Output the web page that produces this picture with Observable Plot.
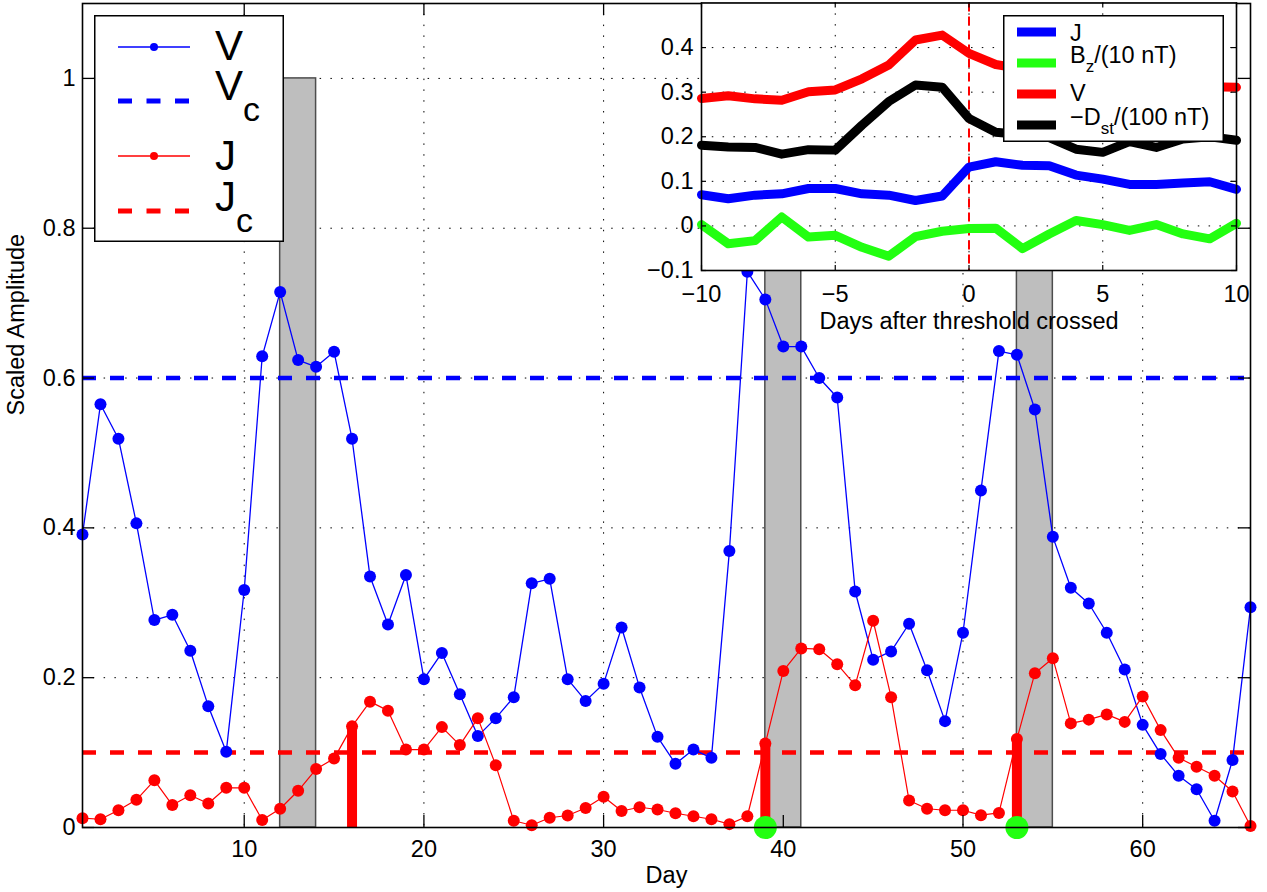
<!DOCTYPE html>
<html><head><meta charset="utf-8">
<script src="https://cdn.jsdelivr.net/npm/d3@7"></script>
<script src="https://cdn.jsdelivr.net/npm/@observablehq/plot@0.6"></script>
<style>
body{margin:0;background:#fff;}
#wrap{position:relative;width:1267px;height:892px;overflow:hidden;font-family:"Liberation Sans",Arial,sans-serif;}
#wrap > div, #wrap > svg{position:absolute;}
</style></head><body>
<div id="wrap"><div id="main" style="left:0;top:0;width:1267px"></div><div id="inset" style="left:620px;top:0;width:640px"></div></div>
<script>
// ---------- main chart data ----------
const days = [1,2,3,4,5,6,7,8,9,10,11,12,13,14,15,16,17,18,19,20,21,22,23,24,25,26,27,28,29,30,31,32,33,34,35,36,37,38,39,40,41,42,43,44,45,46,47,48,49,50,51,52,53,54,55,56,57,58,59,60,61,62,63,64,65,66];
const V = [0.391,0.565,0.519,0.406,0.277,0.284,0.236,0.162,0.101,0.317,0.629,0.715,0.624,0.615,0.635,0.519,0.335,0.271,0.337,0.198,0.233,0.178,0.122,0.146,0.174,0.326,0.332,0.198,0.169,0.192,0.267,0.187,0.121,0.085,0.104,0.093,0.369,0.742,0.705,0.642,0.642,0.600,0.574,0.315,0.224,0.235,0.272,0.210,0.142,0.260,0.450,0.636,0.631,0.558,0.388,0.320,0.299,0.260,0.211,0.137,0.098,0.069,0.051,0.009,0.090,0.294];
const J = [0.0125,0.011,0.023,0.037,0.063,0.030,0.043,0.032,0.053,0.053,0.010,0.025,0.049,0.078,0.092,0.135,0.168,0.156,0.104,0.104,0.134,0.110,0.146,0.083,0.009,0.003,0.013,0.016,0.026,0.041,0.022,0.027,0.024,0.019,0.015,0.011,0.0045,0.015,0.112,0.209,0.239,0.238,0.218,0.190,0.276,0.174,0.036,0.025,0.023,0.023,0.0165,0.0195,0.118,0.206,0.226,0.139,0.144,0.151,0.141,0.175,0.130,0.093,0.081,0.069,0.048,0.002];
const Vc = 0.6;
const Jc = 0.1;
const eventStart = [12,39,53];
const eventEnd = [14,41,55];
const eventTop = [1,1,1];
const crossDays = [16,39,53];
const stormDays = [39,53];
const mainXTicks = [10,20,30,40,50,60];
const mainYTicks = [0,0.2,0.4,0.6,0.8,1];

// ---------- inset (superposed epoch) data ----------
const lagDays = [-10,-9,-8,-7,-6,-5,-4,-3,-2,-1,0,1,2,3,4,5,6,7,8,9,10];
const epochJ   = [0.070,0.061,0.069,0.072,0.084,0.084,0.072,0.069,0.057,0.067,0.132,0.144,0.136,0.135,0.114,0.105,0.093,0.093,0.096,0.099,0.082];
const epochBz  = [0.003,-0.040,-0.033,0.020,-0.025,-0.021,-0.048,-0.068,-0.024,-0.012,-0.006,-0.005,-0.051,-0.018,0.012,0.003,-0.010,0.003,-0.018,-0.029,0.006];
const epochV   = [0.286,0.292,0.285,0.282,0.301,0.305,0.330,0.361,0.417,0.428,0.387,0.362,0.352,0.342,0.335,0.330,0.325,0.320,0.318,0.312,0.311];
const epochDst = [0.181,0.177,0.176,0.161,0.171,0.170,0.226,0.279,0.316,0.311,0.241,0.210,0.205,0.198,0.172,0.165,0.189,0.176,0.195,0.200,0.192];
const crossLag = 0;
const insetXTicks = [-10,-5,0,5,10];
const insetYTicks = [-0.1,0,0.1,0.2,0.3,0.4];

const FONT = "Liberation Sans, Arial, Helvetica, sans-serif";
const FS = 23.5;
const gridDash = "1.5,9.3";
const fmt = d => d < 0 ? "\u2212" + String(-d) : String(d);
const BLUE = "#0000ff", RED = "#ff0000", GREEN = "#22ff11";

// ---------- main plot ----------
const W = 1267, H = 892, mL = 82, mR = 17, mT = 3, mB = 65;
const pw = W - mL - mR, ph = H - mT - mB;
const series = days.map((d, i) => ({day: d, V: V[i], J: J[i]}));
const events = eventStart.map((s, i) => ({x1: s, x2: eventEnd[i], y1: 0, y2: eventTop[i]}));
const stems = crossDays.map(d => ({day: d, y1: 0, J: J[days.indexOf(d)]}));
const storms = stormDays.map(d => ({day: d, y: 0}));
const gridOpts = {stroke: "#000", strokeOpacity: 1, strokeWidth: 1, strokeDasharray: gridDash};
const tickOpts = {stroke: "#000", strokeWidth: 1.3};

const mainPlot = Plot.plot({
  width: W, height: H,
  marginLeft: mL, marginRight: mR, marginTop: mT, marginBottom: mB,
  style: {fontFamily: FONT, fontSize: FS + "px", background: "transparent", color: "#000", overflow: "visible", maxWidth: "none"},
  x: {domain: [1, 66]},
  y: {domain: [0, 1.1]},
  marks: [
    Plot.gridX(mainXTicks, gridOpts),
    Plot.gridY(mainYTicks.filter(d => d > 0), gridOpts),
    Plot.rect(events, {x1: "x1", x2: "x2", y1: "y1", y2: "y2", fill: "#bebebe", stroke: "#4d4d4d", strokeWidth: 1.5}),
    Plot.ruleY([Vc], {stroke: BLUE, strokeWidth: 4.5, strokeDasharray: "14,14"}),
    Plot.ruleY([Jc], {stroke: RED, strokeWidth: 4.5, strokeDasharray: "14,14"}),
    Plot.line(series, {x: "day", y: "V", stroke: BLUE, strokeWidth: 1.3}),
    Plot.dot(series, {x: "day", y: "V", r: 6, fill: BLUE}),
    Plot.line(series, {x: "day", y: "J", stroke: RED, strokeWidth: 1.2}),
    Plot.dot(series, {x: "day", y: "J", r: 6, fill: RED}),
    Plot.ruleX(stems, {x: "day", y1: "y1", y2: "J", stroke: RED, strokeWidth: 10}),
    Plot.dot(storms, {x: "day", y: "y", r: 11.5, fill: GREEN}),
    Plot.frame({stroke: "#000", strokeWidth: 1.6}),
    Plot.tickX(mainXTicks, {x: d => d, ...tickOpts, insetTop: ph - 12}),
    Plot.tickX(mainXTicks, {x: d => d, ...tickOpts, insetBottom: ph - 12}),
    Plot.tickY(mainYTicks, {y: d => d, ...tickOpts, insetRight: pw - 12}),
    Plot.tickY(mainYTicks, {y: d => d, ...tickOpts, insetLeft: pw - 12}),
    Plot.axisX(mainXTicks, {tickSize: 0, tickPadding: 13, tickFormat: fmt, label: null, fontSize: FS}),
    Plot.axisY(mainYTicks, {tickSize: 0, tickPadding: 7, tickFormat: fmt, label: null, fontSize: FS}),
    Plot.text(["Day"], {frameAnchor: "bottom", dy: 48, lineAnchor: "middle", fontSize: FS}),
    Plot.text(["Scaled Amplitude"], {frameAnchor: "left", dx: -66, rotate: -90, lineAnchor: "middle", fontSize: FS})
  ]
});
document.getElementById("main").appendChild(mainPlot);

// ---------- inset plot ----------
const IL = 620, IW = 640, IH = 340;
const imL = 701 - IL, imR = IL + IW - 1236, imT = 2.5, imB = IH - 270;
const ipw = IW - imL - imR, iph = IH - imT - imB;
const epoch = lagDays.map((d, i) => ({lag: d, J: epochJ[i], Bz: epochBz[i], V: epochV[i], Dst: epochDst[i]}));
const itick = {stroke: "#000", strokeWidth: 1.2};
const insetPlot = Plot.plot({
  width: IW, height: IH,
  marginLeft: imL, marginRight: imR, marginTop: imT, marginBottom: imB,
  style: {fontFamily: FONT, fontSize: FS + "px", background: "transparent", color: "#000", overflow: "visible", maxWidth: "none"},
  x: {domain: [-10, 10]},
  y: {domain: [-0.1, 0.5]},
  marks: [
    Plot.frame({fill: "white", stroke: null}),
    Plot.gridX(insetXTicks.filter(d => d > -10 && d < 10), gridOpts),
    Plot.gridY(insetYTicks.filter(d => d > -0.1), gridOpts),
    Plot.ruleX([crossLag], {stroke: RED, strokeWidth: 2, strokeDasharray: "9,5"}),
    Plot.line(epoch, {x: "lag", y: "J", stroke: BLUE, strokeWidth: 9}),
    Plot.line(epoch, {x: "lag", y: "Bz", stroke: GREEN, strokeWidth: 9}),
    Plot.line(epoch, {x: "lag", y: "V", stroke: RED, strokeWidth: 9}),
    Plot.line(epoch, {x: "lag", y: "Dst", stroke: "#000", strokeWidth: 9}),
    Plot.frame({stroke: "#000", strokeWidth: 1.6}),
    Plot.tickX(insetXTicks, {x: d => d, ...itick, insetTop: iph - 5}),
    Plot.tickX(insetXTicks, {x: d => d, ...itick, insetBottom: iph - 5}),
    Plot.tickY(insetYTicks, {y: d => d, ...itick, insetRight: ipw - 5}),
    Plot.tickY(insetYTicks, {y: d => d, ...itick, insetLeft: ipw - 5}),
    Plot.axisX(insetXTicks, {tickSize: 0, tickPadding: 15, tickFormat: fmt, label: null, fontSize: FS}),
    Plot.axisY(insetYTicks, {tickSize: 0, tickPadding: 8, tickFormat: fmt, label: null, fontSize: FS}),
    Plot.text(["Days after threshold crossed"], {frameAnchor: "bottom", dy: 51, lineAnchor: "middle", fontSize: FS})
  ]
});
document.getElementById("inset").appendChild(insetPlot);

// ---------- legends ----------
const wrap = document.getElementById("wrap");
const ns = "http://www.w3.org/2000/svg";
function legendSvg(left, top, w, h, inner) {
  const s = document.createElementNS(ns, "svg");
  s.setAttribute("width", w); s.setAttribute("height", h);
  s.style.left = left + "px"; s.style.top = top + "px";
  s.style.fontFamily = FONT;
  s.innerHTML = `<rect x="0.75" y="0.75" width="${w - 1.5}" height="${h - 1.5}" fill="white" stroke="black" stroke-width="1.5"/>` + inner;
  wrap.appendChild(s);
}
const mainLegend = [
  {label: "V", sub: "", color: BLUE, dashed: false, y: 32, ty: 45},
  {label: "V", sub: "c", color: BLUE, dashed: true, y: 86, ty: 85},
  {label: "J", sub: "", color: RED, dashed: false, y: 141, ty: 155},
  {label: "J", sub: "c", color: RED, dashed: true, y: 196, ty: 196}
];
legendSvg(94, 15, 190, 227, mainLegend.map(e =>
  (e.dashed
    ? `<line x1="24" x2="96" y1="${e.y}" y2="${e.y}" stroke="${e.color}" stroke-width="5" stroke-dasharray="14,14.5"/>`
    : `<line x1="24" x2="96" y1="${e.y}" y2="${e.y}" stroke="${e.color}" stroke-width="1.3"/><circle cx="60" cy="${e.y}" r="4" fill="${e.color}"/>`) +
  `<text x="121" y="${e.ty}" font-size="42">${e.label}${e.sub ? `<tspan dy="21" font-size="34">${e.sub}</tspan>` : ""}</text>`
).join(""));

const insetLegend = [
  {label: "J", sub: "", rest: "", color: BLUE, y: 17, ty: 26},
  {label: "B", sub: "z", rest: "/(10 nT)", color: GREEN, y: 48, ty: 48},
  {label: "V", sub: "", rest: "", color: RED, y: 79, ty: 86},
  {label: "\u2212D", sub: "st", rest: "/(100 nT)", color: "#000", y: 110, ty: 110}
];
legendSvg(1003, 15, 221, 127, insetLegend.map(e =>
  `<line x1="14" x2="53" y1="${e.y}" y2="${e.y}" stroke="${e.color}" stroke-width="9"/>` +
  `<text x="67" y="${e.ty}" font-size="${FS}">${e.label}${e.sub ? `<tspan dy="9" font-size="17">${e.sub}</tspan><tspan dy="-9">${e.rest}</tspan>` : ""}</text>`
).join(""));
</script>
</body></html>
